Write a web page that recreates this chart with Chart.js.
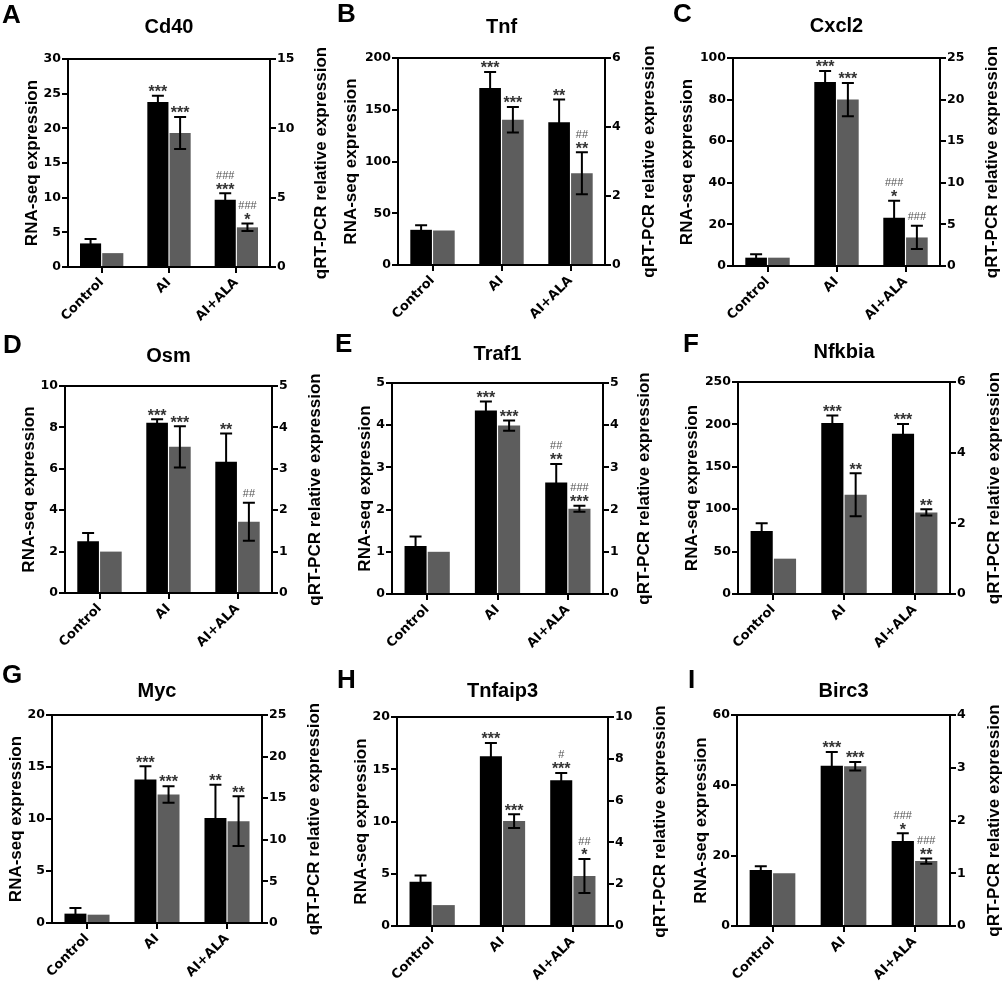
<!DOCTYPE html>
<html><head><meta charset="utf-8">
<script src="https://cdn.jsdelivr.net/npm/chart.js@4.4.1/dist/chart.umd.min.js"></script>
<style>
html,body{margin:0;padding:0;background:#fff;width:1004px;height:986px;overflow:hidden;position:relative}
canvas{position:absolute}
</style></head><body>
<script>
// ---------- data ----------
const categories = ['Control', 'AI', 'AI+ALA'];
const genes = ['Cd40', 'Tnf', 'Cxcl2', 'Osm', 'Traf1', 'Nfkbia', 'Myc', 'Tnfaip3', 'Birc3'];
const panelLetters = ['A', 'B', 'C', 'D', 'E', 'F', 'G', 'H', 'I'];
const leftAxisTitle = 'RNA-seq expression';
const rightAxisTitle = 'qRT-PCR relative expression';

const rnaSeq    = [[3.4, 23.8, 9.7], [34, 171, 138], [4.0, 88.5, 23.2], [2.5, 8.23, 6.34], [1.14, 4.35, 2.64], [74.4, 201.6, 189], [0.9, 13.8, 10.1], [4.24, 16.24, 13.95], [15.9, 45.6, 24.2]];
const rnaSeqErr = [[0.65, 0.9, 0.95], [4.5, 15.5, 22], [1.6, 5.3, 8.2], [0.4, 0.16, 1.37], [0.22, 0.21, 0.44], [9, 9, 11.4], [0.54, 1.28, 3.2], [0.6, 1.27, 0.7], [1.1, 3.9, 2.2]];
const qpcr      = [[1, 9.66, 2.86], [1, 4.21, 2.66], [1, 20.0, 3.43], [1, 3.53, 1.72], [1, 3.99, 2.02], [1, 2.81, 2.31], [1, 15.45, 12.24], [1, 5.02, 2.39], [1, 3.03, 1.23]];
const qpcrErr   = [[0, 1.15, 0.27], [0, 0.37, 0.61], [0, 2.0, 1.4], [0, 0.5, 0.46], [0, 0.12, 0.07], [0, 0.61, 0.09], [0, 1.0, 3.0], [0, 0.33, 0.81], [0, 0.08, 0.05]];
// significance marks, listed from bottom to top
const rnaSeqSig = [
  [[], ['***'], ['***', '###']],
  [[], ['***'], ['**']],
  [[], ['***'], ['*', '###']],
  [[], ['***'], ['**']],
  [[], ['***'], ['**', '##']],
  [[], ['***'], ['***']],
  [[], ['***'], ['**']],
  [[], ['***'], ['***', '#']],
  [[], ['***'], ['*', '###']]
];
const qpcrSig = [
  [[], ['***'], ['*', '###']],
  [[], ['***'], ['**', '##']],
  [[], ['***'], ['###']],
  [[], ['***'], ['##']],
  [[], ['***'], ['***', '###']],
  [[], ['**'], ['**']],
  [[], ['***'], ['**']],
  [[], ['***'], ['*', '##']],
  [[], ['***'], ['**', '###']]
];
const leftMax   = [30, 200, 100, 10, 5, 250, 20, 20, 60];
const leftStep  = [5, 50, 20, 2, 1, 50, 5, 5, 20];
const rightMax  = [15, 6, 25, 5, 5, 6, 25, 10, 4];
const rightStep = [5, 2, 5, 1, 1, 2, 5, 2, 1];

// ---------- layout (page pixels) ----------
const colX = [0, 335, 670], colW = [335, 335, 334], rowY = [0, 320, 650], CANVAS_H = 336;
const plotBox = [[68, 59, 270, 267], [398, 58, 605, 265], [733, 58, 940, 266],
                 [65, 386, 272, 593], [392, 383, 603, 594], [738, 382, 950, 594],
                 [52, 715, 262, 923], [397, 717, 608, 926], [737, 715, 950, 926]];
const leftTitleX  = [32, 351, 687, 29, 365, 692, 16, 361, 701];
const rightTitleX = [321, 649, 992, 315, 644, 994, 314, 660, 994];
const titleBaseY  = [33, 33, 32, 362, 360, 358, 697, 697, 697];
const letterPos   = [[2, 23], [337, 22], [673, 22], [3, 353], [335, 352], [683, 352], [2, 683], [337, 688], [688, 688]];

const FONT = '"Liberation Sans", Arial, Helvetica, sans-serif';
const TICKFONT = '"DejaVu Sans", Verdana, sans-serif';
Chart.defaults.font.family = FONT;
Chart.defaults.color = '#000';

function makeDecor(i, cx, cy) {
  return {
    id: 'decor' + i,
    afterDatasetsDraw(chart) {
      const ctx = chart.ctx;
      ctx.save();
      chart.data.datasets.forEach((ds, di) => {
        const meta = chart.getDatasetMeta(di);
        const ys = chart.scales[ds.yAxisID];
        meta.data.forEach((bar, j) => {
          const v = ds.data[j], e = ds.errors[j];
          const x = bar.x;
          let top = bar.y;
          if (e > 0) {
            const yT = ys.getPixelForValue(v + e), yB = ys.getPixelForValue(v - e);
            ctx.strokeStyle = '#000'; ctx.lineWidth = 2;
            ctx.beginPath();
            ctx.moveTo(x, yT); ctx.lineTo(x, yB);
            ctx.moveTo(x - 6, yT); ctx.lineTo(x + 6, yT);
            ctx.moveTo(x - 6, yB); ctx.lineTo(x + 6, yB);
            ctx.stroke();
            top = yT;
          }
          const marks = ds.sig[j];
          let c = null;
          marks.forEach((m) => {
            const isStar = m[0] === '*';
            if (c === null) c = top - (isStar ? 8 : 9.5);
            else c -= 10.5;
            ctx.textAlign = 'center';
            ctx.textBaseline = 'alphabetic';
            if (isStar) {
              ctx.font = 'bold 16px ' + FONT; ctx.fillStyle = '#333';
              ctx.fillText(m, x, c + 0.585 * 16);
            } else {
              ctx.font = '11px ' + FONT; ctx.fillStyle = '#555';
              ctx.fillText(m, x, c + 0.358 * 11);
            }
          });
        });
      });
      ctx.restore();
    },
    afterDraw(chart) {
      const ctx = chart.ctx, a = chart.chartArea;
      ctx.save();
      // top frame line
      ctx.strokeStyle = '#000'; ctx.lineWidth = 2;
      ctx.beginPath(); ctx.moveTo(a.left - 1, a.top); ctx.lineTo(a.right + 1, a.top); ctx.stroke();
      ctx.fillStyle = '#000';
      // panel letter
      ctx.font = 'bold 26px ' + FONT; ctx.textAlign = 'left'; ctx.textBaseline = 'alphabetic';
      ctx.fillText(panelLetters[i], letterPos[i][0] - cx, letterPos[i][1] - cy);
      // gene title
      ctx.font = 'bold 20px ' + FONT; ctx.textAlign = 'center';
      ctx.fillText(genes[i], (a.left + a.right) / 2, titleBaseY[i] - cy);
      // axis titles
      const midY = (a.top + a.bottom) / 2;
      ctx.font = 'bold 17px ' + FONT; ctx.textBaseline = 'middle';
      ctx.save(); ctx.translate(leftTitleX[i] - cx, midY); ctx.rotate(-Math.PI / 2);
      ctx.fillText(leftAxisTitle, 0, 0); ctx.restore();
      ctx.save(); ctx.translate(rightTitleX[i] - cx, midY); ctx.rotate(-Math.PI / 2);
      ctx.fillText(rightAxisTitle, 0, 0); ctx.restore();
      ctx.restore();
    }
  };
}

const tickFont = {family: TICKFONT, size: 12.5, weight: 'bold'};
for (let i = 0; i < 9; i++) {
  const cx = colX[i % 3], cy = rowY[Math.floor(i / 3)], cw = colW[i % 3];
  const [L, T, R, B] = plotBox[i];
  const cv = document.createElement('canvas');
  cv.width = cw; cv.height = CANVAS_H;
  cv.style.left = cx + 'px'; cv.style.top = cy + 'px';
  cv.style.width = cw + 'px'; cv.style.height = CANVAS_H + 'px';
  document.body.appendChild(cv);
  const yAxis = (pos, max, step, w) => ({
    position: pos, min: 0, max: max,
    ticks: {stepSize: step, color: '#000', font: tickFont, padding: 1},
    grid: {drawOnChartArea: false, drawTicks: true, tickLength: 6, color: '#000', lineWidth: 2},
    border: {display: true, color: '#000', width: 2},
    afterFit(s) { s.width = w; }
  });
  new Chart(cv, {
    type: 'bar',
    data: {
      labels: categories,
      datasets: [
        {label: leftAxisTitle, data: rnaSeq[i], errors: rnaSeqErr[i], sig: rnaSeqSig[i], yAxisID: 'y',
         backgroundColor: '#000', borderWidth: 0, categoryPercentage: 0.66, barPercentage: 0.95},
        {label: rightAxisTitle, data: qpcr[i], errors: qpcrErr[i], sig: qpcrSig[i], yAxisID: 'y1',
         backgroundColor: '#5d5d5d', borderWidth: 0, categoryPercentage: 0.66, barPercentage: 0.95}
      ]
    },
    options: {
      responsive: false, animation: false, devicePixelRatio: 1,
      layout: {padding: {top: T - cy, left: 0, right: 0, bottom: 0}},
      plugins: {legend: {display: false}, tooltip: {enabled: false}, title: {display: false}},
      scales: {
        x: {
          offset: true,
          grid: {offset: false, drawOnChartArea: false, drawTicks: true, tickLength: 6, color: '#000', lineWidth: 2},
          border: {display: true, color: '#000', width: 2},
          ticks: {color: '#000', font: {family: TICKFONT, size: 13, weight: 'bold'}, minRotation: 45, maxRotation: 45, padding: 2, autoSkip: false},
          afterFit(s) { s.height = CANVAS_H - (B - cy); }
        },
        y: yAxis('left', leftMax[i], leftStep[i], L - cx),
        y1: yAxis('right', rightMax[i], rightStep[i], cx + cw - R)
      }
    },
    plugins: [makeDecor(i, cx, cy)]
  });
}
</script>
</body></html>
